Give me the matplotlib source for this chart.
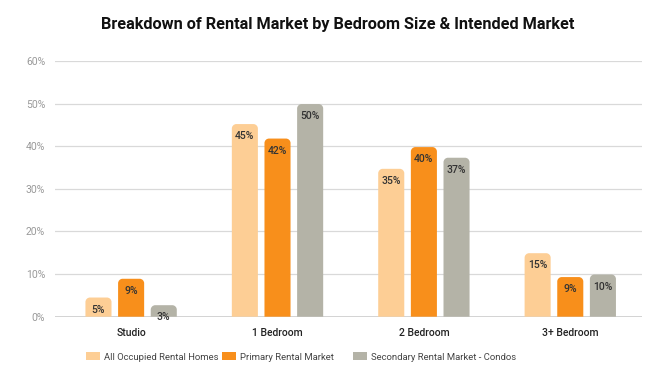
import numpy as np
import matplotlib.pyplot as plt
from matplotlib.path import Path
from matplotlib.patches import PathPatch, Patch

plt.rcParams['font.family'] = ['Roboto', 'DejaVu Sans']

categories = ["Studio", "1 Bedroom", "2 Bedroom", "3+ Bedroom"]
series_names = ["All Occupied Rental Homes", "Primary Rental Market",
                "Secondary Rental Market - Condos"]
all_homes = [4.5, 45.2, 34.7, 14.9]
primary = [8.9, 41.8, 39.8, 9.3]
secondary = [2.7, 49.9, 37.3, 9.9]
all_labels = ["5%", "45%", "35%", "15%"]
primary_labels = ["9%", "42%", "40%", "9%"]
secondary_labels = ["3%", "50%", "37%", "10%"]
yticks = [0, 10, 20, 30, 40, 50, 60]

colors = ["#FDCE95", "#F88F1B", "#B4B3A7"]

fig = plt.figure(figsize=(6.71, 3.69), dpi=100)
ax = fig.add_axes([55 / 671, 1 - 316.7 / 369, 587 / 671, 255.7 / 369])
ax.set_xlim(-0.52, 3.49)
ax.set_ylim(0, 60)

# px -> data scales for rounded corners
sx = 4.01 / 587
sy = 60 / 255.7
r_px = 4.5


def rounded_bar(x0, w, h, color):
    rx = min(r_px * sx, w / 2)
    ry = min(r_px * sy, h)
    k = 0.5523
    x1 = x0 + w
    verts = [(x0, 0), (x0, h - ry),
             (x0, h - ry + k * ry), (x0 + rx - k * rx, h), (x0 + rx, h),
             (x1 - rx, h),
             (x1 - rx + k * rx, h), (x1, h - ry + k * ry), (x1, h - ry),
             (x1, 0), (x0, 0)]
    codes = [Path.MOVETO, Path.LINETO,
             Path.CURVE4, Path.CURVE4, Path.CURVE4,
             Path.LINETO,
             Path.CURVE4, Path.CURVE4, Path.CURVE4,
             Path.LINETO, Path.CLOSEPOLY]
    ax.add_patch(PathPatch(Path(verts, codes), facecolor=color,
                           edgecolor="none", zorder=3))


x = np.arange(len(categories))
width = 0.178
step = 0.223
series = [all_homes, primary, secondary]
labels = [all_labels, primary_labels, secondary_labels]
for i, (vals, labs) in enumerate(zip(series, labels)):
    pos = x + (i - 1) * step
    for p, v, lab in zip(pos, vals, labs):
        rounded_bar(p - width / 2, width, v, colors[i])
        ax.annotate(lab, (p, v), xytext=(0, -8.7), textcoords="offset points",
                    ha="center", va="center", fontsize=7.5, color="#333333",
                    fontweight="medium", zorder=4)

ax.set_yticks(yticks)
ax.set_yticklabels([f"{t}%" for t in yticks])
ax.grid(axis="y", color="#d9d9d9", linewidth=0.9, zorder=0)
ax.axhline(0, color="#d0d0d0", linewidth=1.3, zorder=2)
for s in ax.spines.values():
    s.set_visible(False)
ax.tick_params(axis="y", length=0, pad=7, labelsize=7.5, labelcolor="#999999")
ax.set_xticks(x)
ax.set_xticklabels(categories)
ax.tick_params(axis="x", length=0, pad=8, labelsize=7.5, labelcolor="#222222")
for t in ax.get_xticklabels():
    t.set_fontweight("medium")

fig.text(0.503, 1 - 24 / 369, "Breakdown of Rental Market by Bedroom Size & Intended Market",
         ha="center", va="center", fontsize=11.7, fontweight="bold", color="#111111")

# legend items placed at their own x positions
legend_x = [86, 222, 353]
for c, name, lx in zip(colors, series_names, legend_x):
    fig.legend([Patch(facecolor=c, edgecolor="none")], [name], loc="center left",
               bbox_to_anchor=(lx / 671, 1 - 357 / 369), frameon=False,
               fontsize=6.8, handlelength=1.45, handleheight=0.85,
               handletextpad=0.45, borderpad=0, borderaxespad=0,
               labelcolor="#444444")

fig.savefig("out.png", dpi=100, facecolor="white")
